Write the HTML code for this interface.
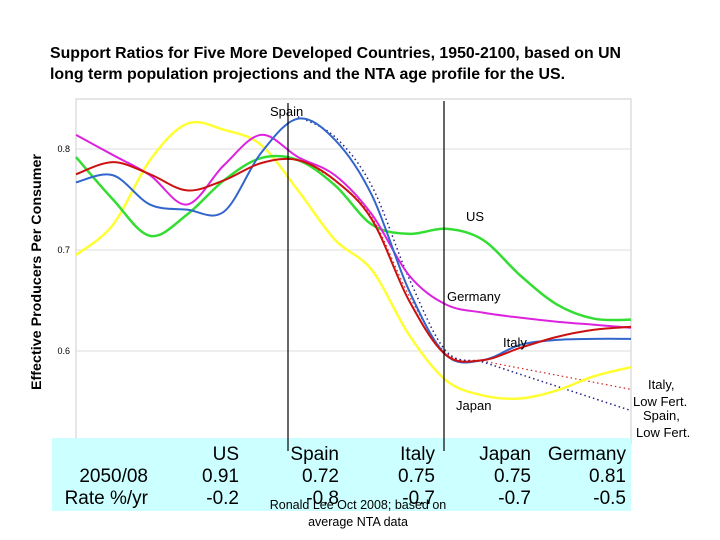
<!DOCTYPE html>
<html><head><meta charset="utf-8"><style>
body{margin:0;background:#fff;}
svg{display:block;font-family:"Liberation Sans",Arial,sans-serif;}
</style></head><body>
<svg id="chart" width="720" height="540" viewBox="0 0 720 540">
<text x="50" y="58" font-size="16" font-weight="bold" textLength="571" lengthAdjust="spacingAndGlyphs">Support Ratios for Five More Developed Countries, 1950-2100, based on UN</text>
<text x="50" y="79" font-size="16" font-weight="bold" textLength="515" lengthAdjust="spacingAndGlyphs">long term population projections and the NTA age profile for the US.</text>
<rect x="76" y="99" width="555" height="345" fill="none" stroke="#ccc"/>
<g id="grid"></g>
<text transform="translate(41,272) rotate(-90)" text-anchor="middle" font-size="14" font-weight="bold" textLength="236" lengthAdjust="spacingAndGlyphs">Effective Producers Per Consumer</text>
<g id="series"></g>
<line x1="288" y1="103" x2="288" y2="451" stroke="#000" stroke-width="1.2"/>
<line x1="444" y1="101" x2="444" y2="451" stroke="#000" stroke-width="1.2"/>
<g font-size="13">
<text x="270" y="116">Spain</text>
<text x="466" y="221">US</text>
<text x="447" y="301">Germany</text>
<text x="503" y="347">Italy</text>
<text x="456" y="410">Japan</text>
<text x="648" y="389">Italy,</text>
<text x="633" y="406">Low Fert.</text>
<text x="643" y="420">Spain,</text>
<text x="636" y="437">Low Fert.</text>
</g>
<rect x="52" y="438" width="579" height="73" fill="#ccffff"/>
<line x1="288" y1="438" x2="288" y2="451" stroke="#000" stroke-width="1.2"/>
<line x1="444" y1="438" x2="444" y2="451" stroke="#000" stroke-width="1.2"/>
<g font-size="19" text-anchor="end">
<text x="239" y="460">US</text><text x="339" y="460">Spain</text><text x="435" y="460">Italy</text><text x="531" y="460">Japan</text><text x="626" y="460">Germany</text>
<text x="148" y="482">2050/08</text><text x="239" y="482">0.91</text><text x="339" y="482">0.72</text><text x="435" y="482">0.75</text><text x="531" y="482">0.75</text><text x="626" y="482">0.81</text>
<text x="148" y="504">Rate %/yr</text><text x="239" y="504">-0.2</text><text x="339" y="504">-0.8</text><text x="435" y="504">-0.7</text><text x="531" y="504">-0.7</text><text x="626" y="504">-0.5</text>
</g>
<text x="358" y="509" font-size="12.5" text-anchor="middle">Ronald Lee Oct 2008; based on</text>
<text x="358" y="526" font-size="12.5" text-anchor="middle">average NTA data</text>
</svg>
<script>
const years=[1950,1960,1970,1980,1990,2000,2010,2020,2030,2040,2050,2060,2070,2080,2090,2100];
const usVals=[0.792,0.75,0.714,0.735,0.769,0.791,0.789,0.764,0.725,0.716,0.721,0.710,0.675,0.646,0.632,0.631];
const spainVals=[0.767,0.774,0.745,0.740,0.738,0.796,0.830,0.809,0.754,0.660,0.596,0.591,0.606,0.611,0.612,0.612];
const italyVals=[0.775,0.787,0.775,0.759,0.769,0.786,0.789,0.769,0.730,0.650,0.596,0.591,0.603,0.614,0.621,0.624];
const germanyVals=[0.814,0.794,0.774,0.745,0.784,0.814,0.792,0.774,0.735,0.675,0.646,0.638,0.633,0.629,0.626,0.623];
const japanVals=[0.695,0.725,0.789,0.825,0.819,0.804,0.759,0.710,0.680,0.616,0.571,0.556,0.553,0.561,0.575,0.584];
const lowYears=[2010,2020,2030,2040,2050,2060,2070,2080,2090,2100];
const spainLowVals=[0.832,0.812,0.763,0.672,0.600,0.589,0.577,0.565,0.553,0.541];
const italyLowVals=[0.789,0.769,0.732,0.655,0.598,0.590,0.583,0.576,0.569,0.562];
const yTicks=[0.6,0.7,0.8];
const NS="http://www.w3.org/2000/svg";
const xS=y=>76+(y-1950)*555/150;
const yS=v=>149+(0.8-v)*1010;
const grid=document.getElementById('grid');
yTicks.forEach(t=>{
 const l=document.createElementNS(NS,'line');
 l.setAttribute('x1',76);l.setAttribute('x2',631);l.setAttribute('y1',yS(t));l.setAttribute('y2',yS(t));
 l.setAttribute('stroke','#ddd');
 
 
 grid.appendChild(l);
 const tx=document.createElementNS(NS,'text');
 tx.setAttribute('x',70);tx.setAttribute('y',yS(t)+3);tx.setAttribute('font-size','9');tx.setAttribute('text-anchor','end');
 tx.textContent=t.toFixed(1);
 
 
 grid.appendChild(tx);
});
function path(xs,vs){
 const p=xs.map((x,i)=>[xS(x),yS(vs[i])]);
 let d='M'+p[0][0]+','+p[0][1];
 for(let i=0;i<p.length-1;i++){
  const p0=p[i-1]||p[i],p1=p[i],p2=p[i+1],p3=p[i+2]||p2;
  const c1=[p1[0]+(p2[0]-p0[0])/6,p1[1]+(p2[1]-p0[1])/6];
  const c2=[p2[0]-(p3[0]-p1[0])/6,p2[1]-(p3[1]-p1[1])/6];
  d+=' C'+c1+' '+c2+' '+p2;
 }
 return d;
}
const g=document.getElementById('series');
function add(xs,vs,col,w,dash,name){
 const e=document.createElementNS(NS,'path');
 e.setAttribute('d',path(xs,vs));e.setAttribute('fill','none');e.setAttribute('stroke',col);e.setAttribute('stroke-width',w);
 if(dash)e.setAttribute('stroke-dasharray',dash);
 
 
 g.appendChild(e);
}
add(lowYears,italyLowVals,'#cc2222',1.2,'1.5,3','italy-low-fert-line');
add(lowYears,spainLowVals,'#222288',1.5,'1.5,3','spain-low-fert-line');
add(years,japanVals,'#ffff33',2.5,null,'japan-line');
add(years,usVals,'#33dd33',2.5,null,'us-line');
add(years,germanyVals,'#dd22dd',2,null,'germany-line');
add(years,spainVals,'#3366cc',2,null,'spain-line');
add(years,italyVals,'#cc1111',2,null,'italy-line');
</script>
</body></html>
